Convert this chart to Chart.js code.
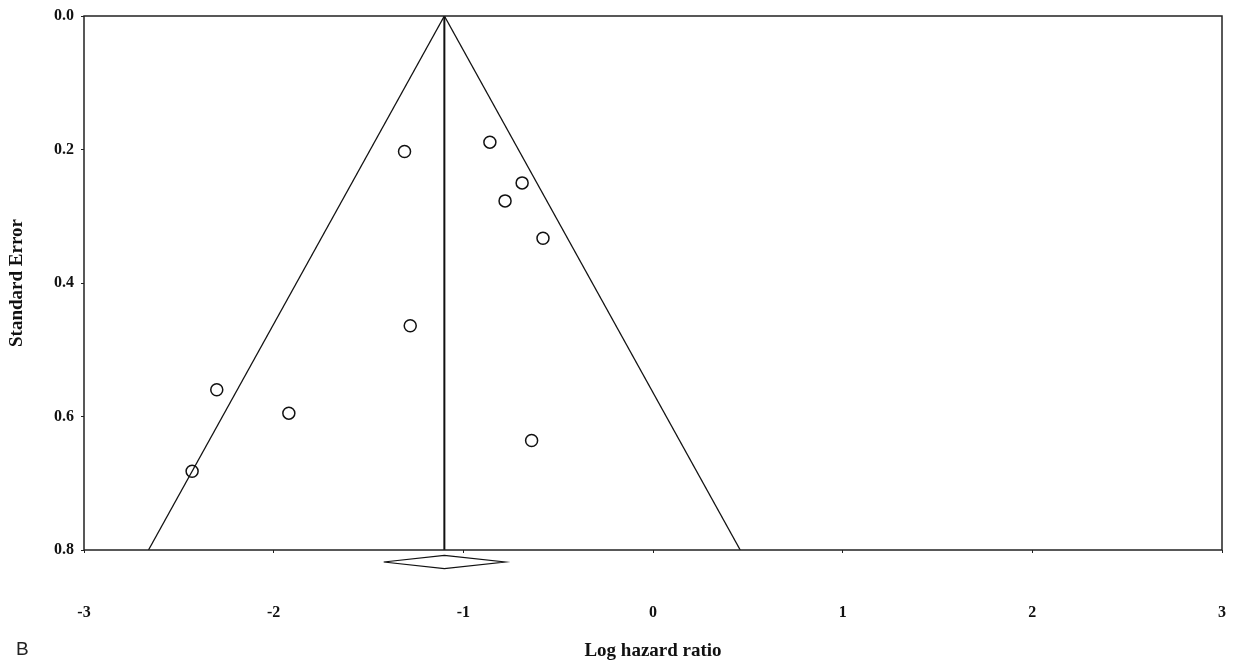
<!DOCTYPE html>
<html lang="en">
<head>
    <meta charset="UTF-8">
    <title>Funnel plot</title>
    <script src="https://cdn.jsdelivr.net/npm/chart.js"></script>
    <style>
        body {
            margin: 0;
            background: #fff;
        }
        .wrap {
            position: relative;
            width: 1241px;
            height: 665px;
        }
        .panel-label {
            position: absolute;
            left: 16px;
            top: 638px;
            font-family: "Liberation Sans", Arial, sans-serif;
            font-size: 19px;
            color: #222;
        }
    </style>
</head>
<body>
    <div class="wrap">
        <canvas id="funnel" width="1241" height="665"></canvas>
        <div class="panel-label">B</div>
    </div>

    <script>
        // Studies: log hazard ratio and standard error
        const logHR = [-1.31, -0.86, -0.69, -0.78, -0.58, -1.28, -2.30, -1.92, -2.43, -0.64];
        const stdErr = [0.203, 0.189, 0.250, 0.277, 0.333, 0.464, 0.560, 0.595, 0.682, 0.636];

        // Pooled estimate and pseudo 95% limits at the bottom of the funnel
        const pooled = -1.10;
        const funnelLeftEnd = -2.66;
        const funnelRightEnd = 0.46;
        const seMax = 0.8;

        // Summary diamond (drawn under the axis)
        const diamondX = [-1.42, -1.10, -0.78, -1.10, -1.42];
        const diamondY = [0.818, 0.808, 0.818, 0.828, 0.818];

        const xTicks = [-3, -2, -1, 0, 1, 2, 3];
        const yTicks = [0.0, 0.2, 0.4, 0.6, 0.8];

        const serif = '"Liberation Serif", "Times New Roman", serif';

        const points = logHR.map((x, i) => ({ x: x, y: stdErr[i] }));
        const diamond = diamondX.map((x, i) => ({ x: x, y: diamondY[i] }));

        // box round the plot area
        const frame = {
            id: 'frame',
            afterDraw(chart) {
                const a = chart.chartArea;
                const ctx = chart.ctx;
                ctx.save();
                ctx.strokeStyle = '#222';
                ctx.lineWidth = 1.5;
                ctx.strokeRect(a.left, a.top, a.right - a.left, a.bottom - a.top);
                ctx.restore();
            }
        };

        const lineStyle = {
            type: 'line',
            borderColor: '#111',
            borderWidth: 1.3,
            pointRadius: 0,
            fill: false,
            tension: 0
        };

        new Chart(document.getElementById('funnel'), {
            type: 'scatter',
            data: {
                datasets: [
                    Object.assign({}, lineStyle, { data: [{ x: pooled, y: 0 }, { x: funnelLeftEnd, y: seMax }] }),
                    Object.assign({}, lineStyle, { data: [{ x: pooled, y: 0 }, { x: funnelRightEnd, y: seMax }] }),
                    Object.assign({}, lineStyle, { borderWidth: 2, data: [{ x: pooled, y: 0 }, { x: pooled, y: seMax }] }),
                    Object.assign({}, lineStyle, {
                        data: diamond,
                        borderWidth: 1.2,
                        fill: true,
                        backgroundColor: '#fff',
                        clip: false
                    }),
                    {
                        data: points,
                        pointRadius: 6,
                        pointBorderWidth: 1.5,
                        pointBorderColor: '#111',
                        pointBackgroundColor: '#fff',
                        showLine: false
                    }
                ]
            },
            options: {
                responsive: false,
                animation: false,
                layout: { padding: { top: 16, right: 19, left: 0, bottom: 0 } },
                plugins: {
                    legend: { display: false },
                    tooltip: { enabled: false }
                },
                scales: {
                    x: {
                        type: 'linear',
                        min: -3,
                        max: 3,
                        afterFit(scale) {
                            scale.height = 115;
                            scale.paddingLeft = 0;
                            scale.paddingRight = 0;
                        },
                        afterBuildTicks(scale) { scale.ticks = xTicks.map(v => ({ value: v })); },
                        border: { display: false },
                        grid: {
                            drawOnChartArea: false,
                            drawTicks: true,
                            tickLength: 3,
                            color: '#222'
                        },
                        ticks: {
                            padding: 50,
                            color: '#111',
                            font: { family: serif, size: 16, weight: 'bold' },
                            callback: v => String(v)
                        },
                        title: {
                            display: true,
                            text: 'Log hazard ratio',
                            color: '#111',
                            font: { family: serif, size: 19, weight: 'bold' },
                            padding: { top: 0, bottom: 3 }
                        }
                    },
                    y: {
                        type: 'linear',
                        min: 0,
                        max: 0.8,
                        reverse: true,
                        afterFit(scale) {
                            scale.width = 84;
                            scale.paddingTop = 0;
                            scale.paddingBottom = 0;
                        },
                        afterBuildTicks(scale) { scale.ticks = yTicks.map(v => ({ value: v })); },
                        border: { display: false },
                        grid: {
                            drawOnChartArea: false,
                            drawTicks: true,
                            tickLength: 3,
                            color: '#222'
                        },
                        ticks: {
                            padding: 7,
                            color: '#111',
                            font: { family: serif, size: 16, weight: 'bold' },
                            callback: v => v.toFixed(1)
                        },
                        title: {
                            display: true,
                            text: 'Standard Error',
                            color: '#111',
                            font: { family: serif, size: 19, weight: 'bold' },
                            padding: { top: 6, bottom: 0 }
                        }
                    }
                }
            },
            plugins: [frame]
        });
    </script>
</body>
</html>
